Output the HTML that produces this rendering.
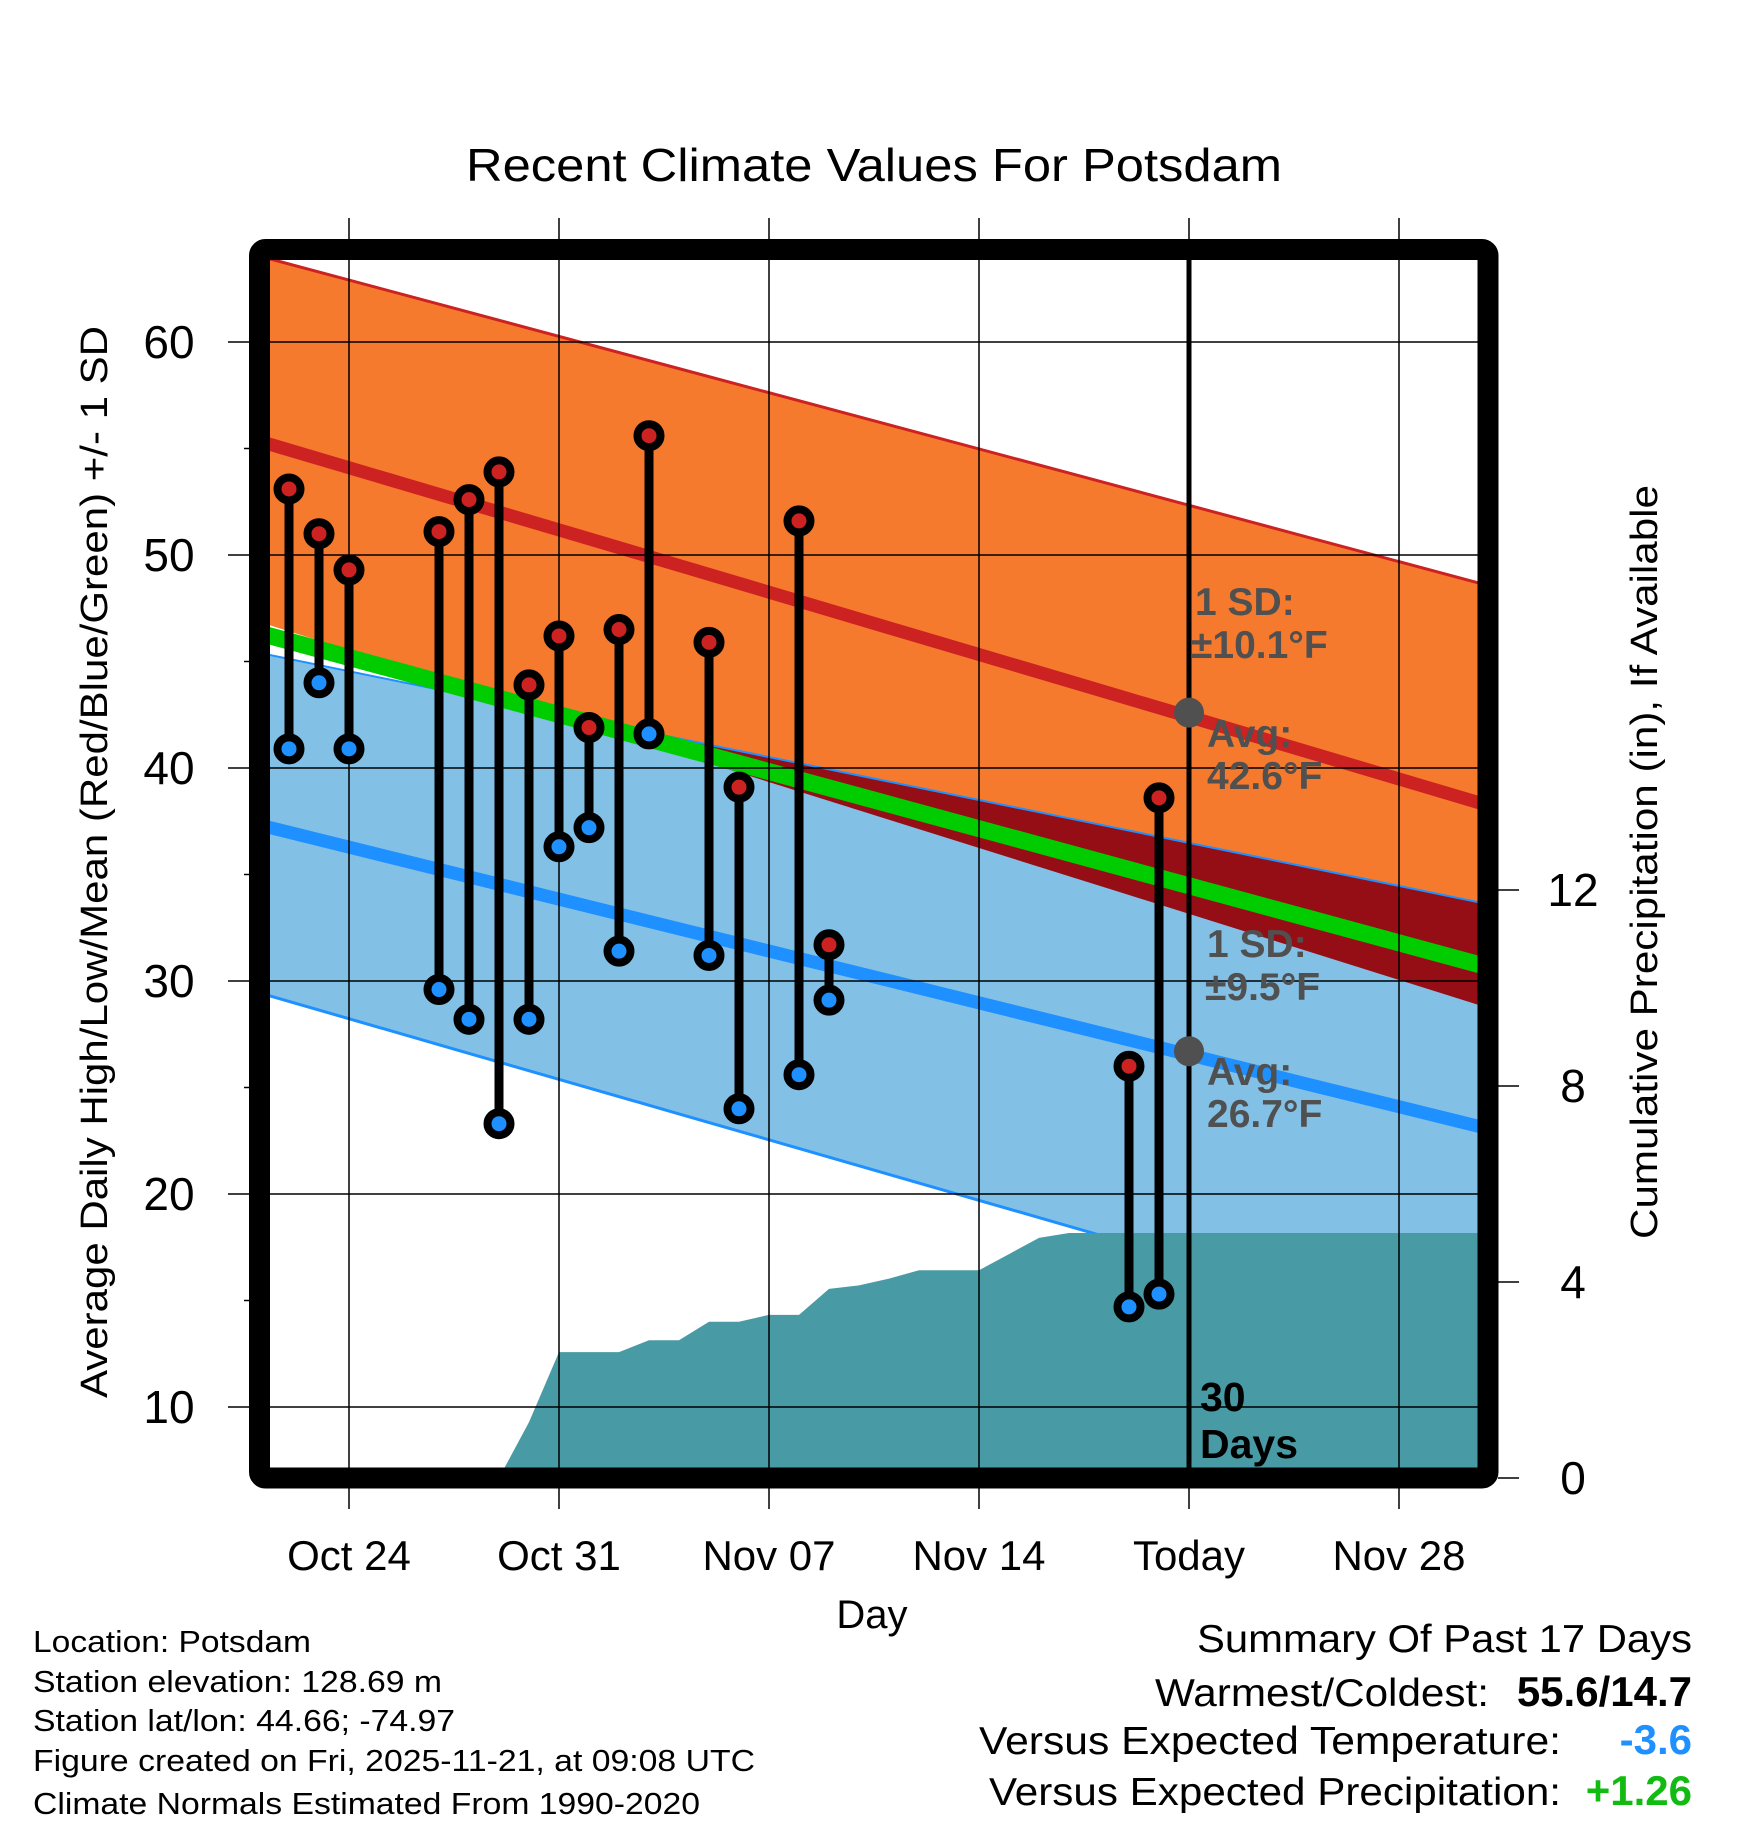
<!DOCTYPE html>
<html><head><meta charset="utf-8"><style>
html,body{margin:0;padding:0;background:#fff;}
svg{display:block;font-family:"Liberation Sans",sans-serif;}
</style></head><body>
<svg id="chart" width="1748" height="1828" viewBox="0 0 1748 1828" xmlns="http://www.w3.org/2000/svg">
<defs>
<clipPath id="plotClip"><rect x="270" y="260" width="1208" height="1208"/></clipPath>
</defs>
<text x="874" y="181" font-size="46" text-anchor="middle" textLength="816" lengthAdjust="spacingAndGlyphs">Recent Climate Values For Potsdam</text>
<g id="plot" clip-path="url(#plotClip)"></g>
<g id="over"></g>
<text transform="translate(107,862) rotate(-90)" font-size="38" text-anchor="middle" textLength="1072" lengthAdjust="spacingAndGlyphs">Average Daily High/Low/Mean (Red/Blue/Green) +/- 1 SD</text>
<text transform="translate(1657,862) rotate(-90)" font-size="38" text-anchor="middle" textLength="754" lengthAdjust="spacingAndGlyphs">Cumulative Precipitation (in), If Available</text>
<text x="872" y="1628" font-size="40" text-anchor="middle">Day</text>
<g font-size="31">
<text x="33" y="1652" textLength="278" lengthAdjust="spacingAndGlyphs">Location: Potsdam</text>
<text x="33" y="1692" textLength="409" lengthAdjust="spacingAndGlyphs">Station elevation: 128.69 m</text>
<text x="33" y="1731" textLength="422" lengthAdjust="spacingAndGlyphs">Station lat/lon: 44.66; -74.97</text>
<text x="33" y="1771" textLength="722" lengthAdjust="spacingAndGlyphs">Figure created on Fri, 2025-11-21, at 09:08 UTC</text>
<text x="33" y="1814" textLength="667" lengthAdjust="spacingAndGlyphs">Climate Normals Estimated From 1990-2020</text>
</g>
<g font-size="39">
<text x="1692" y="1652" text-anchor="end" textLength="495" lengthAdjust="spacingAndGlyphs">Summary Of Past 17 Days</text>
<text x="1489" y="1706" text-anchor="end" textLength="334" lengthAdjust="spacingAndGlyphs">Warmest/Coldest:</text>
<text x="1692" y="1706" text-anchor="end" font-weight="bold" font-size="42">55.6/14.7</text>
<text x="1561" y="1754" text-anchor="end" textLength="582" lengthAdjust="spacingAndGlyphs">Versus Expected Temperature:</text>
<text x="1692" y="1754" text-anchor="end" font-weight="bold" font-size="42" fill="#1e90ff">-3.6</text>
<text x="1561" y="1805" text-anchor="end" textLength="572" lengthAdjust="spacingAndGlyphs">Versus Expected Precipitation:</text>
<text x="1692" y="1805" text-anchor="end" font-weight="bold" font-size="42" fill="#11bb11">+1.26</text>
</g>
</svg>
<script>
// day index: 0 = Oct 24; Today (Nov 21) = 28
const obsDays = [-2,-1,0,3,4,5,6,7,8,9,10,12,13,15,16,26,27];
const obsHigh = [53.1,51.0,49.3,51.1,52.6,53.9,43.9,46.2,41.9,46.5,55.6,45.9,39.1,51.6,31.7,26.0,38.6];
const obsLow  = [40.9,44.0,40.9,29.6,28.2,23.3,28.2,36.3,37.2,31.4,41.6,31.2,24.0,25.6,29.1,14.7,15.3];
const normDays = [-3,4,11,18,25,32,39];
const hiAvg  = [55.35,52.43,49.51,46.58,43.66,40.74,37.81];
const hiUp   = [64.04,61.40,58.75,56.11,53.47,50.82,48.18];
const hiLow  = [46.86,43.77,40.67,37.57,34.48,31.38,28.28];
const loAvg  = [37.33,34.89,32.45,30.02,27.58,25.14,22.71];
const loUp   = [45.41,43.39,41.38,39.36,37.35,35.33,33.31];
const loLow  = [29.45,26.60,23.76,20.92,18.08,15.24,12.40];
const meanAvg= [46.34,43.66,40.98,38.30,35.62,32.94,30.26];
const precipDays = [5,6,7,8,9,10,11,12,13,14,15,16,17,18,19,20,21,22,23,24,25,38];
const precipVals = [0,1.14,2.57,2.57,2.57,2.81,2.81,3.19,3.19,3.33,3.33,3.86,3.93,4.07,4.24,4.24,4.24,4.57,4.9,5.0,5.0,5.0];
const xTickDays = [0,7,14,21,28,35];
const xTickLabels = ["Oct 24","Oct 31","Nov 07","Nov 14","Today","Nov 28"];
const yTicks = [10,20,30,40,50,60];
const yMinor = [15,25,35,45,55];
const y2Ticks = [0,4,8,12];

const NS="http://www.w3.org/2000/svg";
const X = d => 349 + d*30;
const Y = v => 342 + (60-v)*21.3;
const P = p => 1478 - p*49;
const plot = document.getElementById('plot');
const over = document.getElementById('over');
const svg = document.getElementById('chart');
function mk(tag, attrs, parent){const e=document.createElementNS(NS,tag);for(const k in attrs)e.setAttribute(k,attrs[k]);parent.appendChild(e);return e;}
function line(xs, ys){return xs.map((d,i)=>(i?'L':'M')+X(d)+','+Y(ys[i])).join(' ');}
function band(up, lo){let s=normDays.map((d,i)=>(i?'L':'M')+X(d)+','+Y(up[i])).join(' ');for(let i=normDays.length-1;i>=0;i--)s+=' L'+X(normDays[i])+','+Y(lo[i]);return s+' Z';}

let e;
e=mk('path',{d:band(hiUp,hiLow),fill:'#f57a2e'},plot);


e=mk('path',{d:band(loUp,loLow),fill:'#82c0e6'},plot);


const cp=mk('clipPath',{id:'hiClip'},svg.querySelector('defs'));
mk('path',{d:band(hiUp,hiLow)},cp);
e=mk('path',{d:band(loUp,loLow),fill:'#960e15','clip-path':'url(#hiClip)'},plot);


e=mk('path',{d:line(normDays,hiUp),fill:'none',stroke:'#cc2222','stroke-width':3},plot);


e=mk('path',{d:line(normDays,loUp),fill:'none',stroke:'#1e90ff','stroke-width':2},plot);


e=mk('path',{d:line(normDays,loLow),fill:'none',stroke:'#1e90ff','stroke-width':3},plot);


e=mk('path',{d:line(normDays,meanAvg),fill:'none',stroke:'#00cc00','stroke-width':17},plot);


e=mk('path',{d:line(normDays,hiAvg),fill:'none',stroke:'#cc2222','stroke-width':13},plot);


e=mk('path',{d:line(normDays,loAvg),fill:'none',stroke:'#1e90ff','stroke-width':13},plot);


// precip
let pd='M'+X(precipDays[0])+','+P(0);
precipDays.forEach((d,i)=>{pd+=' L'+X(d)+','+P(precipVals[i]);});
pd+=' L'+X(precipDays[precipDays.length-1])+','+P(0)+' Z';
e=mk('path',{d:pd,fill:'#489ba4'},plot);


// grid
xTickDays.forEach(d=>{
  e=mk('line',{x1:X(d),x2:X(d),y1:218,y2:1509,stroke:'#000','stroke-width':1.5},over);
  
  
});
yTicks.forEach(v=>{
  e=mk('line',{x1:228,x2:1478,y1:Y(v),y2:Y(v),stroke:'#000','stroke-width':1.5},over);
  
  
  e=mk('text',{x:169,y:Y(v)+16,'font-size':46,'text-anchor':'middle'},over);
  e.textContent=v;
  
  
});
yMinor.forEach(v=>{
  e=mk('line',{x1:244,x2:260,y1:Y(v),y2:Y(v),stroke:'#000','stroke-width':1.5},over);
  
  
});
xTickDays.forEach((d,i)=>{
  e=mk('text',{x:X(d),y:1570,'font-size':42,'text-anchor':'middle'},over);
  e.textContent=xTickLabels[i];
  
  
});
y2Ticks.forEach(p=>{
  e=mk('line',{x1:1498,x2:1519,y1:P(p),y2:P(p),stroke:'#000','stroke-width':1.5},over);
  
  
  e=mk('text',{x:1573,y:P(p)+16,'font-size':46,'text-anchor':'middle'},over);
  e.textContent=p;
  
  
});
// obs
obsDays.forEach((d,i)=>{
  e=mk('line',{x1:X(d),x2:X(d),y1:Y(obsHigh[i]),y2:Y(obsLow[i]),stroke:'#000','stroke-width':9},over);
  
  
});
obsDays.forEach((d,i)=>{
  e=mk('circle',{cx:X(d),cy:Y(obsHigh[i]),r:11.5,fill:'#cc2222',stroke:'#000','stroke-width':8},over);
  
  
  e=mk('circle',{cx:X(d),cy:Y(obsLow[i]),r:11.5,fill:'#1e90ff',stroke:'#000','stroke-width':8},over);
  
  
});
// today line
e=mk('line',{x1:X(28),x2:X(28),y1:260,y2:1468,stroke:'#000','stroke-width':5},over);


e=mk('circle',{cx:X(28),cy:Y(42.6),r:15,fill:'#505050'},over);


e=mk('circle',{cx:X(28),cy:Y(26.7),r:15,fill:'#505050'},over);


const labs=[["1 SD:",1195,615],["±10.1°F",1191,658],["Avg:",1207,747],["42.6°F",1207,789],["1 SD:",1207,957],["±9.5°F",1205,1000],["Avg:",1207,1085],["26.7°F",1207,1127]];
labs.forEach(l=>{
  e=mk('text',{x:l[1],y:l[2],'font-size':39,'font-weight':'bold',fill:'#505050'},over);
  e.textContent=l[0];
  
  
});
e=mk('text',{x:1200,y:1411,'font-size':41,'font-weight':'bold',fill:'#000'},over);
e.textContent='30';


e=mk('text',{x:1200,y:1458,'font-size':41,'font-weight':'bold',fill:'#000'},over);
e.textContent='Days';


// frame
e=mk('rect',{x:259.5,y:249.5,width:1228.5,height:1228.5,rx:6,fill:'none',stroke:'#000','stroke-width':21},over);


</script>
</body></html>
